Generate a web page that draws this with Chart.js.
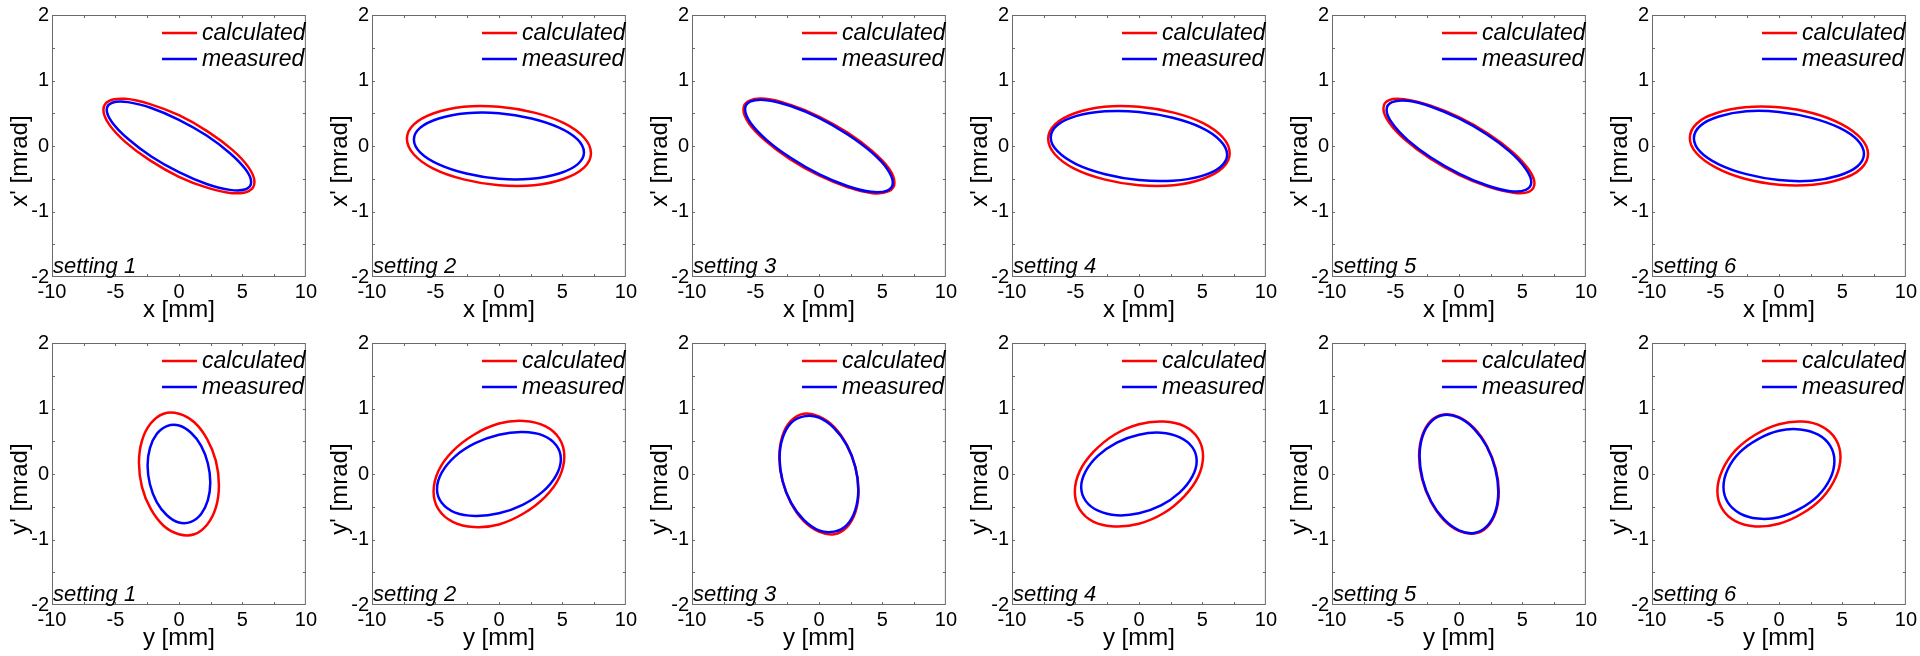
<!DOCTYPE html>
<html><head><meta charset="utf-8">
<script src="https://cdn.jsdelivr.net/npm/chart.js@4.4.1/dist/chart.umd.min.js"></script>
<style>
html,body{margin:0;padding:0;background:#fff;}
#wrap{position:relative;width:1920px;height:656px;overflow:hidden;background:#fff;}
.cell{position:absolute;width:320px;height:328px;}
canvas{display:block;}
</style></head><body><div id="wrap"></div>
<script>
// ---------- labels ----------
const settings = ['setting 1', 'setting 2', 'setting 3', 'setting 4', 'setting 5', 'setting 6'];
const seriesNames = ['calculated', 'measured'];
const xAxisTitles = ['x [mm]', 'y [mm]'];
const yAxisTitles = ["x' [mrad]", "y' [mrad]"];
const xTickValues = [-10, -5, 0, 5, 10];
const xTickLabels = ['-10', '-5', '0', '5', '10'];
const yTickValues = [-2, -1, 0, 1, 2];
const yTickLabels = ['-2', '-1', '0', '1', '2'];

// ---------- horizontal plane: points along each ellipse (x [mm], x' [mrad]) ----------
const xCalcPos = [
  [5.95, 5.50, 4.21, 2.28, 0, -2.28, -4.21, -5.50, -5.95, -5.50, -4.21, -2.28, 0, 2.28, 4.21, 5.50],
  [7.25, 6.70, 5.13, 2.78, 0, -2.78, -5.13, -6.70, -7.25, -6.70, -5.13, -2.78, 0, 2.78, 5.13, 6.70],
  [5.95, 5.50, 4.21, 2.28, 0, -2.28, -4.21, -5.50, -5.95, -5.50, -4.21, -2.28, 0, 2.28, 4.21, 5.50],
  [7.15, 6.61, 5.06, 2.74, 0, -2.74, -5.06, -6.61, -7.15, -6.61, -5.06, -2.74, 0, 2.74, 5.06, 6.61],
  [5.95, 5.50, 4.21, 2.28, 0, -2.28, -4.21, -5.50, -5.95, -5.50, -4.21, -2.28, 0, 2.28, 4.21, 5.50],
  [7.02, 6.49, 4.96, 2.69, 0, -2.69, -4.96, -6.49, -7.02, -6.49, -4.96, -2.69, 0, 2.69, 4.96, 6.49]
];
const xCalcAng = [
  [-0.55, -0.33, -0.06, 0.22, 0.47, 0.64, 0.72, 0.69, 0.55, 0.33, 0.06, -0.22, -0.47, -0.64, -0.72, -0.69],
  [-0.11, 0.13, 0.35, 0.51, 0.60, 0.60, 0.50, 0.33, 0.11, -0.13, -0.35, -0.51, -0.60, -0.60, -0.50, -0.33],
  [-0.56, -0.34, -0.08, 0.20, 0.45, 0.63, 0.72, 0.69, 0.56, 0.34, 0.08, -0.20, -0.45, -0.63, -0.72, -0.69],
  [-0.11, 0.13, 0.35, 0.51, 0.60, 0.60, 0.50, 0.33, 0.11, -0.13, -0.35, -0.51, -0.60, -0.60, -0.50, -0.33],
  [-0.57, -0.36, -0.09, 0.19, 0.44, 0.62, 0.71, 0.70, 0.57, 0.36, 0.09, -0.19, -0.44, -0.62, -0.71, -0.70],
  [-0.12, 0.11, 0.33, 0.50, 0.59, 0.59, 0.50, 0.34, 0.12, -0.11, -0.33, -0.50, -0.59, -0.59, -0.50, -0.34]
];
const xMeasPos = [
  [5.69, 5.26, 4.02, 2.18, 0, -2.18, -4.02, -5.26, -5.69, -5.26, -4.02, -2.18, 0, 2.18, 4.02, 5.26],
  [6.70, 6.19, 4.74, 2.57, 0, -2.57, -4.74, -6.19, -6.70, -6.19, -4.74, -2.57, 0, 2.57, 4.74, 6.19],
  [5.82, 5.38, 4.11, 2.23, 0, -2.23, -4.11, -5.38, -5.82, -5.38, -4.11, -2.23, 0, 2.23, 4.11, 5.38],
  [6.95, 6.42, 4.91, 2.66, 0, -2.66, -4.91, -6.42, -6.95, -6.42, -4.91, -2.66, 0, 2.66, 4.91, 6.42],
  [5.70, 5.27, 4.03, 2.18, 0, -2.18, -4.03, -5.27, -5.70, -5.27, -4.03, -2.18, 0, 2.18, 4.03, 5.27],
  [6.70, 6.19, 4.74, 2.57, 0, -2.57, -4.74, -6.19, -6.70, -6.19, -4.74, -2.57, 0, 2.57, 4.74, 6.19]
];
const xMeasAng = [
  [-0.55, -0.36, -0.11, 0.16, 0.40, 0.58, 0.67, 0.66, 0.55, 0.36, 0.11, -0.16, -0.40, -0.58, -0.67, -0.66],
  [-0.10, 0.10, 0.28, 0.42, 0.50, 0.50, 0.42, 0.28, 0.10, -0.10, -0.28, -0.42, -0.50, -0.50, -0.42, -0.28],
  [-0.56, -0.35, -0.09, 0.18, 0.43, 0.61, 0.70, 0.68, 0.56, 0.35, 0.09, -0.18, -0.43, -0.61, -0.70, -0.68],
  [-0.13, 0.08, 0.28, 0.43, 0.52, 0.53, 0.46, 0.32, 0.13, -0.08, -0.28, -0.43, -0.52, -0.53, -0.46, -0.32],
  [-0.55, -0.35, -0.09, 0.18, 0.42, 0.60, 0.69, 0.67, 0.55, 0.35, 0.09, -0.18, -0.42, -0.60, -0.69, -0.67],
  [-0.12, 0.09, 0.28, 0.43, 0.52, 0.53, 0.45, 0.31, 0.12, -0.09, -0.28, -0.43, -0.52, -0.53, -0.45, -0.31]
];

// ---------- vertical plane: points along each ellipse (y [mm], y' [mrad]) ----------
const yCalcPos = [
  [3.15, 2.91, 2.23, 1.21, 0, -1.21, -2.23, -2.91, -3.15, -2.91, -2.23, -1.21, 0, 1.21, 2.23, 2.91],
  [5.15, 4.76, 3.64, 1.97, 0, -1.97, -3.64, -4.76, -5.15, -4.76, -3.64, -1.97, 0, 1.97, 3.64, 4.76],
  [3.12, 2.88, 2.21, 1.19, 0, -1.19, -2.21, -2.88, -3.12, -2.88, -2.21, -1.19, 0, 1.19, 2.21, 2.88],
  [5.05, 4.67, 3.57, 1.93, 0, -1.93, -3.57, -4.67, -5.05, -4.67, -3.57, -1.93, 0, 1.93, 3.57, 4.67],
  [3.14, 2.90, 2.22, 1.20, 0, -1.20, -2.22, -2.90, -3.14, -2.90, -2.22, -1.20, 0, 1.20, 2.22, 2.90],
  [4.85, 4.48, 3.43, 1.86, 0, -1.86, -3.43, -4.48, -4.85, -4.48, -3.43, -1.86, 0, 1.86, 3.43, 4.48]
];
const yCalcAng = [
  [-0.17, 0.20, 0.53, 0.79, 0.92, 0.92, 0.77, 0.51, 0.17, -0.20, -0.53, -0.79, -0.92, -0.92, -0.77, -0.51],
  [0.27, 0.54, 0.73, 0.81, 0.77, 0.60, 0.35, 0.05, -0.27, -0.54, -0.73, -0.81, -0.77, -0.60, -0.35, -0.05],
  [-0.26, 0.10, 0.44, 0.72, 0.88, 0.92, 0.81, 0.58, 0.26, -0.10, -0.44, -0.72, -0.88, -0.92, -0.81, -0.58],
  [0.27, 0.54, 0.73, 0.80, 0.76, 0.60, 0.34, 0.04, -0.27, -0.54, -0.73, -0.80, -0.76, -0.60, -0.34, -0.04],
  [-0.27, 0.08, 0.42, 0.70, 0.87, 0.91, 0.81, 0.58, 0.27, -0.08, -0.42, -0.70, -0.87, -0.91, -0.81, -0.58],
  [0.26, 0.53, 0.72, 0.80, 0.76, 0.60, 0.36, 0.05, -0.26, -0.53, -0.72, -0.80, -0.76, -0.60, -0.36, -0.05]
];
const yMeasPos = [
  [2.47, 2.28, 1.75, 0.95, 0, -0.95, -1.75, -2.28, -2.47, -2.28, -1.75, -0.95, 0, 0.95, 1.75, 2.28],
  [4.88, 4.51, 3.45, 1.87, 0, -1.87, -3.45, -4.51, -4.88, -4.51, -3.45, -1.87, 0, 1.87, 3.45, 4.51],
  [3.10, 2.86, 2.19, 1.19, 0, -1.19, -2.19, -2.86, -3.10, -2.86, -2.19, -1.19, 0, 1.19, 2.19, 2.86],
  [4.55, 4.20, 3.22, 1.74, 0, -1.74, -3.22, -4.20, -4.55, -4.20, -3.22, -1.74, 0, 1.74, 3.22, 4.20],
  [3.10, 2.86, 2.19, 1.19, 0, -1.19, -2.19, -2.86, -3.10, -2.86, -2.19, -1.19, 0, 1.19, 2.19, 2.86],
  [4.37, 4.04, 3.09, 1.67, 0, -1.67, -3.09, -4.04, -4.37, -4.04, -3.09, -1.67, 0, 1.67, 3.09, 4.04]
];
const yMeasAng = [
  [-0.13, 0.16, 0.43, 0.63, 0.74, 0.73, 0.61, 0.40, 0.13, -0.16, -0.43, -0.63, -0.74, -0.73, -0.61, -0.40],
  [0.23, 0.44, 0.59, 0.64, 0.60, 0.47, 0.27, 0.02, -0.23, -0.44, -0.59, -0.64, -0.60, -0.47, -0.27, -0.02],
  [-0.24, 0.11, 0.44, 0.70, 0.86, 0.88, 0.78, 0.55, 0.24, -0.11, -0.44, -0.70, -0.86, -0.88, -0.78, -0.55],
  [0.20, 0.41, 0.56, 0.63, 0.60, 0.48, 0.28, 0.04, -0.20, -0.41, -0.56, -0.63, -0.60, -0.48, -0.28, -0.04],
  [-0.27, 0.08, 0.42, 0.69, 0.86, 0.90, 0.80, 0.58, 0.27, -0.08, -0.42, -0.69, -0.86, -0.90, -0.80, -0.58],
  [0.20, 0.43, 0.60, 0.68, 0.66, 0.53, 0.33, 0.07, -0.20, -0.43, -0.60, -0.68, -0.66, -0.53, -0.33, -0.07]
];

// ---------- drawing ----------
const FONT = '"Liberation Sans", Arial, Helvetica, sans-serif';
const FRAME = '#6a6a6a';
const COLORS = ['#ff0000', '#0000ff'];

const planes = [
  { calcPos: xCalcPos, calcAng: xCalcAng, measPos: xMeasPos, measAng: xMeasAng, xTitle: xAxisTitles[0], yTitle: yAxisTitles[0] },
  { calcPos: yCalcPos, calcAng: yCalcAng, measPos: yMeasPos, measAng: yMeasAng, xTitle: xAxisTitles[1], yTitle: yAxisTitles[1] }
];

// closed ring -> data with one wrap-around point on each side (so the closing joint is smooth)
function ringData(xs, ys) {
  const ring = xs.map((v, i) => ({ x: v, y: ys[i] }));
  const n = ring.length;
  return [ring[n - 1], ...ring, ring[0], ring[1]];
}
function hideEnds(n) {
  return { borderColor: ctx => (ctx.p0DataIndex === 0 || ctx.p0DataIndex === n + 1) ? 'rgba(0,0,0,0)' : undefined };
}

function decor(info) {
  return {
    id: 'decor',
    afterDatasetsDraw(chart) {
      const { ctx, chartArea: a, scales } = chart;
      const sx = scales.x, sy = scales.y;
      ctx.save();
      // frame
      ctx.strokeStyle = FRAME;
      ctx.lineWidth = 1;
      ctx.strokeRect(a.left + 0.5, a.top + 0.5, a.right - a.left - 1, a.bottom - a.top - 1);
      // inward ticks on all four sides
      const TL = 3;
      ctx.beginPath();
      sx.ticks.forEach(t => {
        if (t.value <= sx.min || t.value >= sx.max) return;
        const p = Math.round(sx.getPixelForValue(t.value)) + 0.5;
        ctx.moveTo(p, a.bottom); ctx.lineTo(p, a.bottom - TL);
        ctx.moveTo(p, a.top); ctx.lineTo(p, a.top + TL);
      });
      sy.ticks.forEach(t => {
        if (t.value <= sy.min || t.value >= sy.max) return;
        const p = Math.round(sy.getPixelForValue(t.value)) + 0.5;
        ctx.moveTo(a.left, p); ctx.lineTo(a.left + TL, p);
        ctx.moveTo(a.right, p); ctx.lineTo(a.right - TL, p);
      });
      ctx.stroke();
      // axis titles
      ctx.fillStyle = '#000';
      ctx.font = '24px ' + FONT;
      ctx.textAlign = 'center';
      ctx.textBaseline = 'middle';
      ctx.fillText(info.xTitle, (a.left + a.right) / 2, 310);
      ctx.save();
      ctx.translate(20, 161);
      ctx.rotate(-Math.PI / 2);
      ctx.fillText(info.yTitle, 0, 0);
      ctx.restore();
      // setting label
      ctx.font = 'italic 22px ' + FONT;
      ctx.textAlign = 'left';
      ctx.textBaseline = 'alphabetic';
      ctx.fillText(info.setting, a.left + 1, a.bottom - 4);
      // legend
      chart.data.datasets.forEach((ds, i) => {
        const ly = a.top + 18 + i * 26;
        ctx.strokeStyle = ds.borderColor;
        ctx.lineWidth = 2.5;
        ctx.beginPath();
        ctx.moveTo(a.left + 110, ly);
        ctx.lineTo(a.left + 145, ly);
        ctx.stroke();
        ctx.fillStyle = '#000';
        ctx.font = 'italic 23px ' + FONT;
        ctx.textBaseline = 'alphabetic';
        ctx.fillText(ds.label, a.left + 150, ly + 7);
      });
      ctx.restore();
    }
  };
}

const wrap = document.getElementById('wrap');
planes.forEach((pl, r) => {
  settings.forEach((st, c) => {
    const cell = document.createElement('div');
    cell.className = 'cell';
    cell.style.left = (c * 320) + 'px';
    cell.style.top = (r * 328) + 'px';
    const cv = document.createElement('canvas');
    cv.width = 320; cv.height = 328;
    cv.style.width = '320px'; cv.style.height = '328px';
    cell.appendChild(cv);
    wrap.appendChild(cell);
    const n = pl.calcPos[c].length;
    new Chart(cv.getContext('2d'), {
      type: 'scatter',
      data: {
        datasets: [
          { label: seriesNames[0], data: ringData(pl.calcPos[c], pl.calcAng[c]), borderColor: COLORS[0],
            borderWidth: 2.5, showLine: true, tension: 0.4, pointRadius: 0, fill: false, order: 2,
            borderCapStyle: 'round', segment: hideEnds(n) },
          { label: seriesNames[1], data: ringData(pl.measPos[c], pl.measAng[c]), borderColor: COLORS[1],
            borderWidth: 2.5, showLine: true, tension: 0.4, pointRadius: 0, fill: false, order: 1,
            borderCapStyle: 'round', segment: hideEnds(n) }
        ]
      },
      options: {
        responsive: false, animation: false, devicePixelRatio: 1,
        layout: { padding: { left: 0, right: 13, top: 15, bottom: 0 } },
        plugins: { legend: { display: false }, tooltip: { enabled: false } },
        elements: { point: { radius: 0, hoverRadius: 0 } },
        events: [],
        scales: {
          x: {
            type: 'linear', min: -10, max: 10,
            afterFit: s => { s.height = 51; },
            ticks: { stepSize: 2.5, autoSkip: false, maxRotation: 0, padding: 3, color: '#000',
              font: { family: FONT, size: 20 },
              callback: v => { const i = xTickValues.indexOf(v); return i >= 0 ? xTickLabels[i] : ''; } },
            grid: { display: false, drawTicks: false },
            border: { display: false }
          },
          y: {
            type: 'linear', min: -2, max: 2,
            afterFit: s => { s.width = 52; },
            ticks: { stepSize: 0.5, autoSkip: false, padding: 3, color: '#000',
              font: { family: FONT, size: 20 },
              callback: v => { const i = yTickValues.indexOf(v); return i >= 0 ? yTickLabels[i] : ''; } },
            grid: { display: false, drawTicks: false },
            border: { display: false }
          }
        }
      },
      plugins: [decor({ setting: st, xTitle: pl.xTitle, yTitle: pl.yTitle })]
    });
  });
});
</script>
</body></html>
